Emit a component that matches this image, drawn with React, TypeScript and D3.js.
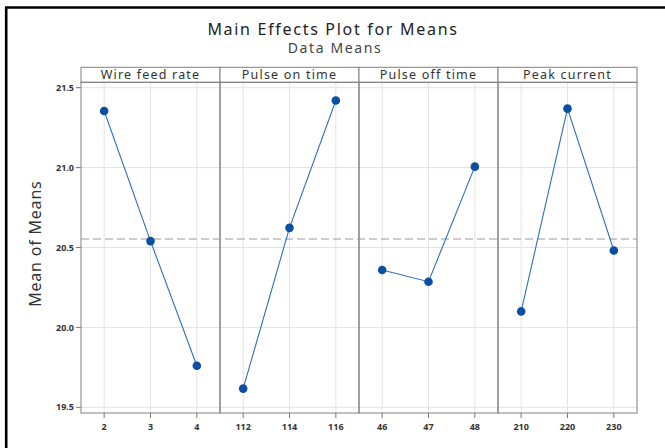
import React, { useEffect, useRef } from "react";
import * as d3 from "d3";

// factors shown as panels, with their levels and the mean response at each level
const factors = ["Wire feed rate", "Pulse on time", "Pulse off time", "Peak current"];
const levels = [
  ["2", "3", "4"],
  ["112", "114", "116"],
  ["46", "47", "48"],
  ["210", "220", "230"]
];
const means = [
  [21.354, 20.54, 19.76],
  [19.617, 20.623, 21.42],
  [20.359, 20.286, 21.006],
  [20.1, 21.369, 20.481]
];
const grandMean = 20.553;
const yTicks = [19.5, 20.0, 20.5, 21.0, 21.5];

const W = 665;
const H = 448;

export default function App() {
  const ref = useRef<SVGSVGElement>(null);

  useEffect(() => {
    const svg = d3.select(ref.current);
    svg.selectAll("*").remove();

    const left = 81;
    const right = 637;
    const stripTop = 67.3;
    const plotTop = 82.3;
    const plotBottom = 413;
    const font = "'Noto Sans', 'Open Sans', sans-serif";

    const y = d3.scaleLinear().domain([19.5, 21.5]).range([407.3, 87.7]);
    const panel = d3.scaleBand().domain(factors).range([left, right]).padding(0);
    const bw = panel.bandwidth();

    // outer black frame (top and left edges visible)
    svg
      .append("path")
      .attr("d", `M6.2,${H + 5}V7.5H${W + 5}`)
      .attr("fill", "none")
      .attr("stroke", "#000")
      .attr("stroke-width", 2.6);

    // titles
    svg
      .append("text")
      .attr("x", 333)
      .attr("y", 34.8)
      .attr("text-anchor", "middle")
      .attr("font-family", font)
      .attr("font-size", 16)
      .attr("letter-spacing", 1.7)
      .attr("fill", "#222")
      .text("Main Effects Plot for Means");
    svg
      .append("text")
      .attr("x", 335)
      .attr("y", 52.6)
      .attr("text-anchor", "middle")
      .attr("font-family", font)
      .attr("font-size", 14)
      .attr("letter-spacing", 1.6)
      .attr("fill", "#444")
      .text("Data Means");

    // y label
    svg
      .append("text")
      .attr("transform", `translate(34.5,${(plotTop + plotBottom) / 2 - 4}) rotate(-90)`)
      .attr("text-anchor", "middle")
      .attr("dominant-baseline", "central")
      .attr("font-family", font)
      .attr("font-size", 16)
      .attr("letter-spacing", 0.8)
      .attr("fill", "#333")
      .text("Mean of Means");

    // horizontal grid
    svg
      .append("g")
      .selectAll("line")
      .data(yTicks)
      .join("line")
      .attr("x1", left)
      .attr("x2", right)
      .attr("y1", d => y(d))
      .attr("y2", d => y(d))
      .attr("stroke", "#e3e3e3")
      .attr("stroke-width", 1);

    // y ticks + labels
    const ya = svg.append("g");
    ya.selectAll("line")
      .data(yTicks)
      .join("line")
      .attr("x1", left - 5)
      .attr("x2", left)
      .attr("y1", d => y(d))
      .attr("y2", d => y(d))
      .attr("stroke", "#777");
    ya.selectAll("text")
      .data(yTicks)
      .join("text")
      .attr("x", left - 7)
      .attr("y", d => y(d))
      .attr("dy", "0.35em")
      .attr("text-anchor", "end")
      .attr("font-family", font)
      .attr("font-size", 9)
      .attr("font-weight", "bold")
      .attr("fill", "#333")
      .text(d => d.toFixed(1));

    factors.forEach((f, i) => {
      const x0 = panel(f) as number;
      const x = d3.scalePoint().domain(levels[i]).range([x0, x0 + bw]).padding(0.5);
      const g = svg.append("g");

      // vertical grid
      g.selectAll("line.grid")
        .data(levels[i])
        .join("line")
        .attr("class", "grid")
        .attr("x1", d => x(d) as number)
        .attr("x2", d => x(d) as number)
        .attr("y1", plotTop)
        .attr("y2", plotBottom)
        .attr("stroke", "#e3e3e3");

      // x ticks + labels
      g.selectAll("line.tick")
        .data(levels[i])
        .join("line")
        .attr("class", "tick")
        .attr("x1", d => x(d) as number)
        .attr("x2", d => x(d) as number)
        .attr("y1", plotBottom)
        .attr("y2", plotBottom + 5)
        .attr("stroke", "#777");
      g.selectAll("text.tl")
        .data(levels[i])
        .join("text")
        .attr("class", "tl")
        .attr("x", d => x(d) as number)
        .attr("y", 430)
        .attr("text-anchor", "middle")
        .attr("font-family", font)
        .attr("font-size", 9)
        .attr("font-weight", "bold")
        .attr("fill", "#333")
        .text(d => d);

      // strip header
      g.append("rect")
        .attr("x", x0)
        .attr("y", stripTop)
        .attr("width", bw)
        .attr("height", plotTop - stripTop)
        .attr("fill", "#fff")
        .attr("stroke", "#808080");
      g.append("text")
        .attr("x", x0 + bw / 2)
        .attr("y", stripTop + 12)
        .attr("text-anchor", "middle")
        .attr("font-family", font)
        .attr("font-size", 12.5)
        .attr("letter-spacing", 1.2)
        .attr("fill", "#333")
        .text(f);

      // panel frame
      g.append("rect")
        .attr("x", x0)
        .attr("y", plotTop)
        .attr("width", bw)
        .attr("height", plotBottom - plotTop)
        .attr("fill", "none")
        .attr("stroke", "#808080");
    });

    // grand mean reference line
    svg
      .append("line")
      .attr("x1", left)
      .attr("x2", right)
      .attr("y1", y(grandMean))
      .attr("y2", y(grandMean))
      .attr("stroke", "#9a9a9a")
      .attr("stroke-dasharray", "8,4");

    // lines and points
    factors.forEach((f, i) => {
      const x0 = panel(f) as number;
      const x = d3.scalePoint().domain(levels[i]).range([x0, x0 + bw]).padding(0.5);
      const pts = levels[i].map((l, j) => [x(l) as number, y(means[i][j])] as [number, number]);
      svg
        .append("path")
        .attr("d", d3.line()(pts))
        .attr("fill", "none")
        .attr("stroke", "#2e6fc0")
        .attr("stroke-width", 1.1);
      svg
        .append("g")
        .selectAll("circle")
        .data(pts)
        .join("circle")
        .attr("cx", d => d[0])
        .attr("cy", d => d[1])
        .attr("r", 4.3)
        .attr("fill", "#0b4fa3");
    });
  }, []);

  return (
    <svg
      ref={ref}
      width={W}
      height={H}
      style={{ position: "absolute", left: 0, top: 0, background: "#fff" }}
    />
  );
}
